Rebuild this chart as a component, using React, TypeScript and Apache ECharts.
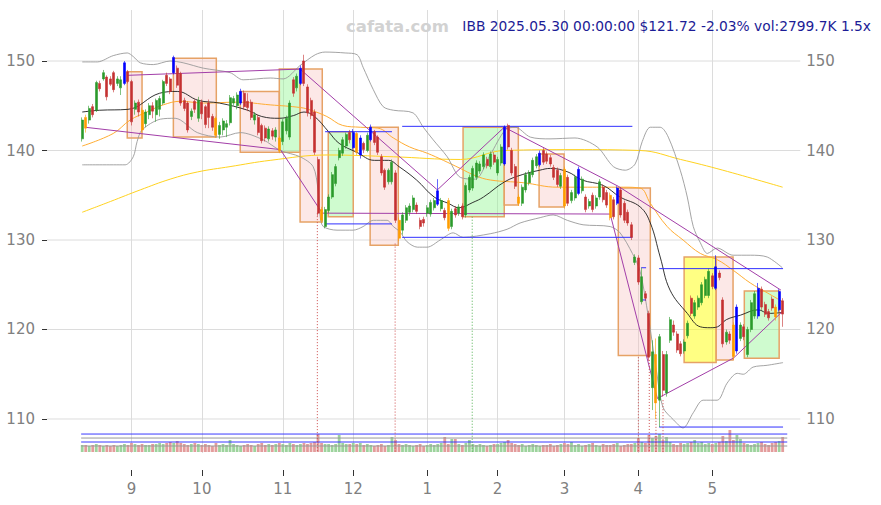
import React, { useEffect, useRef } from 'react';
import * as echarts from 'echarts';

const HOLIDAYS = ['2024-09-02', '2024-11-28', '2024-12-25', '2025-01-01', '2025-01-09', '2025-01-20', '2025-02-17', '2025-04-18', '2025-05-26'];
function tradingDays(start: string, end: string): string[] {
  const out: string[] = [];
  const d = new Date(start + 'T00:00:00Z');
  const e = new Date(end + 'T00:00:00Z');
  while (d <= e) {
    const wd = d.getUTCDay();
    const s = d.toISOString().slice(0, 10);
    if (wd !== 0 && wd !== 6 && HOLIDAYS.indexOf(s) < 0) out.push(s);
    d.setUTCDate(d.getUTCDate() + 1);
  }
  return out;
}
const dates = tradingDays('2024-08-13', '2025-05-30');
const PAD_L = 10;
const PAD_R = 5;

// [open, close, low, high]
const candles: number[][] = [
[141.3,143.4,141.0,143.7],[143.7,142.5,142.0,144.0],[143.4,144.7,143.0,145.0],[144.9,144.0,143.7,145.2],[144.5,147.6,144.3,147.8],
[147.5,146.9,146.6,147.8],[148.0,148.7,147.8,149.0],[148.2,146.0,145.6,148.4],[148.0,147.4,147.2,148.3],[148.7,146.8,146.5,148.9],
[147.5,148.0,147.2,148.3],[147.0,147.9,146.2,148.3],[147.5,149.8,147.3,150.0],[148.8,147.7,147.5,149.0],[147.7,143.2,142.8,147.9],
[144.6,145.3,144.0,145.6],[145.4,144.3,143.8,145.7],[144.5,142.3,142.0,144.8],[143.0,144.3,142.6,144.6],[144.0,145.0,143.5,145.3],
[145.0,144.4,143.6,145.4],[144.0,145.6,143.2,145.8],[144.6,145.8,143.8,146.1],[145.3,147.7,145.1,147.9],[148.4,147.5,147.2,148.7],
[148.0,146.6,146.3,148.2],[148.7,150.4,148.5,150.6],[149.2,147.3,147.0,149.5],[148.6,145.3,145.0,148.8],[145.6,144.7,144.4,145.9],
[145.3,142.3,142.0,145.5],[143.8,144.4,143.4,144.7],[145.5,144.6,144.2,145.7],[143.6,145.6,143.2,146.0],[145.4,144.1,143.5,145.7],
[144.9,142.9,142.5,145.1],[145.3,143.7,142.5,145.7],[143.8,142.6,142.2,144.1],[143.6,141.7,141.4,143.8],[141.8,142.8,141.3,143.2],
[142.3,143.3,141.7,143.6],[142.6,143.0,141.5,143.4],[143.1,145.9,142.8,146.2],[145.3,145.8,145.0,146.1],[145.0,146.2,144.6,146.5],
[145.3,146.6,145.1,146.9],[146.4,144.9,144.6,146.7],[145.5,144.8,144.4,146.4],[145.4,143.7,143.4,145.7],[143.4,144.0,142.9,144.3],
[143.7,142.0,141.7,144.0],[142.8,141.1,140.8,143.0],[142.5,141.4,141.0,142.8],[141.3,142.4,141.0,142.7],[142.2,141.6,141.2,142.5],
[141.5,142.3,141.0,142.6],[141.4,140.0,139.7,141.6],[141.0,143.2,140.6,143.5],[142.2,143.6,141.8,143.9],[141.5,145.3,141.2,145.6],
[147.9,146.4,146.0,148.2],[147.0,148.3,146.6,148.6],[147.5,149.2,147.3,149.5],[150.0,147.5,147.2,150.7],[147.1,144.2,143.8,147.4],
[145.6,143.9,143.5,145.9],[144.3,139.8,139.5,144.6],[139.0,133.0,132.7,139.3],[133.4,132.2,131.9,133.7],[131.5,133.4,131.3,133.7],
[133.3,134.8,133.0,135.1],[134.8,137.3,134.6,137.6],[136.3,138.2,136.0,138.5],[139.2,140.0,138.9,140.3],[139.7,141.2,139.4,141.5],
[140.5,141.8,140.2,142.0],[142.0,141.2,140.8,142.3],[140.3,142.0,140.1,142.4],[141.9,139.8,139.5,142.1],[139.5,141.4,139.1,141.7],
[140.8,140.1,139.7,141.0],[140.0,141.7,139.8,142.0],[141.2,142.6,141.0,142.9],[142.1,140.9,140.6,142.3],[141.5,139.8,139.5,141.7],
[139.3,137.5,137.2,139.6],[137.8,135.9,135.6,138.0],[136.5,137.8,136.2,138.0],[136.5,138.7,136.2,139.0],[137.5,132.2,131.9,137.8],
[132.2,130.2,129.9,132.5],[131.1,132.8,130.6,133.1],[132.2,133.6,131.9,133.9],[133.1,133.8,132.7,134.1],[133.4,134.7,133.1,135.0],
[133.9,133.2,132.9,134.2],[132.2,131.5,131.2,132.5],[132.3,131.9,131.5,132.6],[133.0,133.6,132.6,133.9],[132.9,134.2,132.6,134.5],
[133.6,134.4,133.3,134.7],[134.0,135.5,133.8,136.8],[133.5,134.4,133.2,134.7],[133.3,132.5,132.2,133.6],[134.4,131.3,131.0,134.7],
[131.5,133.2,131.2,133.5],[133.5,132.8,132.5,133.8],[133.0,133.7,132.7,134.0],[133.8,132.6,132.3,134.1],[132.8,136.1,132.5,136.4],
[135.6,137.0,135.3,137.3],[135.8,138.0,135.5,138.3],[137.0,138.6,136.7,138.9],[137.7,138.5,137.4,138.8],[138.2,139.5,137.9,139.8],
[139.0,138.3,138.0,139.3],[138.2,139.6,137.9,139.9],[139.5,138.7,138.4,139.8],[137.5,139.0,137.2,139.3],[138.6,140.4,138.3,140.7],
[138.5,142.6,138.3,142.8],[142.8,140.4,140.1,143.0],[140.0,137.5,137.2,140.3],[138.2,136.0,135.7,138.5],[134.8,134.1,133.8,135.1],
[134.1,135.9,133.8,136.2],[135.6,137.3,135.3,137.6],[136.4,137.5,136.1,137.8],[137.3,138.9,137.0,139.2],[138.3,139.3,138.0,139.6],
[138.4,139.7,138.2,140.0],[140.0,138.7,138.4,140.3],[139.6,138.8,138.5,139.9],[139.2,138.5,138.2,139.5],[138.1,137.0,136.7,138.4],
[137.8,136.2,135.9,138.1],[136.0,137.2,135.7,137.5],[137.9,133.8,133.5,138.2],[137.0,134.1,133.8,137.3],[134.4,135.3,134.1,135.6],
[134.7,137.0,134.4,137.3],[135.2,137.9,135.0,138.2],[135.5,136.8,135.2,137.1],[134.8,133.4,133.1,135.1],[133.8,134.3,133.5,134.6],
[135.0,133.4,133.1,135.3],[133.8,134.7,133.5,135.0],[134.8,136.5,134.5,136.8],[135.9,134.5,134.2,136.2],[135.3,133.9,133.6,135.6],
[135.0,132.5,132.2,135.3],[134.5,132.6,132.3,134.8],[134.1,135.8,133.9,136.0],[135.6,132.8,132.5,135.9],[134.1,132.2,131.9,134.4],
[133.1,131.9,131.6,133.4],[131.7,130.3,130.0,132.0],[127.5,128.1,127.2,128.4],[128.0,125.3,125.0,128.3],[123.1,125.9,122.8,126.9],
[124.0,123.5,123.2,124.3],[121.8,116.9,116.5,122.1],[113.5,117.5,111.0,118.8],[117.2,111.8,110.0,119.0],[112.1,119.2,109.1,119.5],
[117.2,113.2,112.5,117.6],[112.9,117.2,112.5,117.6],[118.8,121.1,118.5,121.4],[120.5,119.7,119.3,121.0],[119.5,117.7,117.4,119.8],
[118.4,117.3,117.0,118.7],[117.6,118.6,117.3,118.9],[119.3,120.7,119.0,121.0],[123.5,121.8,121.5,123.8],[121.5,123.0,121.2,123.3],
[122.5,123.5,122.2,123.8],[123.0,125.0,122.7,125.3],[123.8,125.6,123.5,125.9],[123.8,126.5,123.5,126.8],[126.0,124.8,124.5,126.3],
[124.6,127.0,124.4,128.3],[126.3,125.8,125.5,126.6],[123.3,118.4,118.0,123.6],[118.6,119.7,118.3,120.0],[119.5,118.8,118.4,119.8],
[120.5,117.0,116.6,120.8],[117.6,122.5,117.3,122.8],[119.0,120.5,118.7,120.8],[120.3,119.2,118.8,120.6],[117.2,120.0,116.9,120.3],
[120.0,123.0,119.7,123.3],[121.5,124.0,121.2,124.3],[121.5,124.6,121.2,125.2],[124.5,122.5,122.2,124.8],[122.8,121.7,121.4,123.1],
[122.0,121.3,121.0,122.3],[123.4,122.4,122.1,123.7],[122.5,121.4,121.0,122.8],[122.2,124.24,122.0,124.5],[123.2,121.72,120.3,123.5]
];
const blueIdx = [12, 26, 45, 62, 77, 79, 82, 101, 120, 130, 141, 152, 180, 186, 192, 198];
const orangeIdx = [1, 17, 38, 56, 68, 78, 90, 104, 124, 137, 150, 163, 185, 197];

// volume, thousands of shares
const volumes = [
1310,1310,1120,1310,1500,1310,1120,1310,1120,1310,1120,1310,1500,1310,
1680,1500,1310,1500,1310,1310,1500,1500,1680,1500,1680,1870,1680,2060,1680,1500,1310,1500,1680,1500,
1310,1500,1310,1120,1680,1310,1500,1310,2240,1500,1310,1120,1310,1500,1310,1120,1500,1680,1310,1500,1310,1500,1680,
1500,1310,1680,1500,1310,1500,1680,1500,1680,1870,3370,1680,1500,1500,1310,1500,3180,1680,1500,1500,
1680,1500,1680,1310,1500,1310,1120,1310,1500,1120,1310,2800,2240,1500,1310,1500,1310,1120,1310,1500,1120,
1310,1500,1310,1500,1680,2800,1500,2430,2430,1500,1310,1680,2240,1500,1310,1500,1310,1120,1310,1500,
1500,1680,1870,2240,1680,1500,1310,1500,1120,1310,1500,1310,1120,1310,1310,1500,1120,1310,1500,
1680,1500,1870,1310,1500,1120,1310,1500,1680,1310,1120,1500,1310,1310,1500,1680,1120,1310,1500,1500,1680,
2620,1870,1680,3180,2620,2990,3370,2240,2800,1870,1500,1310,1680,1500,1680,1870,2240,1680,1870,1500,1680,
1500,1680,1870,2990,2060,4110,2240,3180,2430,1680,1500,1310,1500,1680,1870,1500,1310,1680,1870,2060,2799.7
];

// indicator curves: [candle index, value]
const ma20: number[][] = [[0,144.3],[5,144.5],[13,144.6],[22,146.4],[27,146.6],[33,145.6],[39,145.3],[47,144.5],[51,143.8],[56,143.6],[60,143.9],[63,144.3],[66,143.8],[70,142.1],[73,140.8],[78,139.8],[83,138.9],[87,138.9],[90,138.2],[95,136.7],[100,134.8],[104,134.1],[107,133.6],[111,134.2],[114,134.8],[120,136.5],[125,137.3],[130,137.8],[133,138.0],[138,137.6],[142,136.7],[148,136.1],[152.8,134.8],[158.5,133.7],[161.4,131.9],[164.2,128.1],[167,124.4],[171.9,121.8],[175.6,120.3],[178.4,120.2],[180.5,120.3],[183,121.1],[187,121.6],[192,122.2],[195,121.8],[199,121.9]];
const bbUpper: number[][] = [[0,149.9],[4.3,149.9],[8.8,150.6],[12.8,150.9],[14.5,150.5],[16.5,149.8],[20.2,149.6],[25,150.0],[28.7,149.8],[34.4,149.2],[42,148.7],[45.7,147.9],[53.4,148.1],[57.1,148.0],[61.9,149.5],[66.2,150.7],[69,151.0],[74.7,150.9],[78.1,150.7],[79.8,149.3],[82.7,146.8],[85.5,144.9],[88.4,144.5],[94,144.2],[96.9,142.6],[99.7,141.2],[103.7,139.3],[107.4,137.0],[111.6,136.8],[115.9,139.5],[120.2,142.3],[123,142.6],[127.3,141.5],[132.9,141.3],[140,141.4],[146.3,140.4],[150.9,138.2],[154.3,137.8],[157.1,138.5],[159.1,141.0],[161.4,142.6],[164.2,142.6],[166.5,141.5],[169.9,137.8],[171.9,134.8],[173.6,131.5],[175.6,129.7],[177.6,128.5],[180.4,129.1],[184.9,128.3],[189.8,128.3],[194.6,128.1],[198.9,126.9]];
const bbLower: number[][] = [[0,138.4],[12.2,138.4],[14.5,139.3],[15.6,141.0],[17,142.3],[22.2,143.5],[26.4,143.6],[32.7,142.0],[39.2,141.5],[44.9,142.0],[51.4,141.2],[56.3,140.0],[61.9,139.3],[65.6,138.2],[67,135.6],[67.6,132.6],[68.5,131.5],[72.4,131.1],[77,131.1],[79.8,131.5],[82.7,132.2],[86.6,132.2],[88.4,131.5],[90.3,130.9],[92.3,129.8],[95.2,129.2],[98,129.2],[101.7,130.0],[105.4,130.8],[108.2,130.3],[115.9,130.7],[120.7,131.2],[124.4,131.9],[130.1,132.5],[133.8,132.8],[137.8,132.2],[142.3,131.7],[150,131.5],[152.8,130.8],[156.3,128.5],[158.5,126.5],[160.8,121.5],[163.1,115.5],[165,111.3],[168,109.9],[170.7,109.0],[173.6,110.7],[176.4,112.1],[180.4,112.1],[183.2,114.0],[186.1,115.1],[187.8,115.0],[190.6,115.8],[194.6,116.0],[199.1,116.3]];
const ma50: number[][] = [[0,140.5],[8.8,141.9],[13.6,143.4],[18.4,144.3],[23,145.1],[28,145.5],[34.4,145.3],[44,145.4],[53.4,145.1],[62,144.8],[65,144.5],[69.5,143.8],[74,142.8],[79,142.6],[84,142.5],[88.4,141.4],[93,140.4],[98,139.7],[102.6,138.9],[107.4,138.0],[111.6,137.2],[116,136.7],[125.3,136.4],[135,135.9],[144.9,135.9],[153.7,135.9],[158.5,135.8],[161.4,134.1],[166.2,131.5],[170.7,130.0],[175.6,128.5],[180.4,127.8],[185,126.6],[189.8,125.2],[194.6,124.1],[199,123.1]];
const ma200: number[][] = [[0,133.1],[8,134.3],[16.5,135.6],[25,136.8],[32.7,137.6],[42,138.2],[53.4,138.9],[69.6,139.5],[88.4,139.3],[107.4,139.0],[120,140.0],[140,140.1],[158.5,140.0],[170,139.0],[182,137.8],[199,135.9]];

// boxes: [x1, x2, top, bottom, kind] kind 0 pink, 1 green, 2 yellow
const boxes: number[][] = [
[12.8,17.0,148.8,141.4,0],[25.9,38.1,150.3,141.5,0],[44.9,56.0,146.6,139.8,0],[56.0,61.9,149.1,139.8,1],[61.9,68.2,149.1,132.0,0],
[69.9,77.0,142.1,132.6,1],[81.8,89.8,142.6,129.4,0],[108.2,119.9,142.6,132.6,1],[119.9,123.9,142.6,133.9,0],[129.8,136.9,139.6,133.7,0],
[152.3,161.4,135.8,117.1,0],[171.0,180.1,128.1,116.3,2],[180.1,184.9,128.1,116.6,0],[188.1,198.0,124.3,116.8,1]
];
const zigUpper: number[][] = [[12.8,148.4],[61.9,149.1],[100.9,135.6],[119.9,142.6],[152.3,136.0],[198.5,124.4]];
const zigLower: number[][] = [[0.8,142.6],[56.3,140.1],[68.2,133.0],[150,132.9],[163.4,112.3],[185,116.8],[198.9,122.0]];
// blue levels: [x1, x2, value]
const blueLevels: number[][] = [[69,88,142.1],[69,88,131.8],[90.9,156.3,142.7],[90.9,156.3,130.3],[163.9,199.1,126.8],[163.9,199.1,109.1],[158.8,160.2,126.9],[158.8,160.2,123.3]];
// dotted drops: [x, from value, kind] kind 0 red, 1 green
const drops: number[][] = [[66.8,133.0,0],[88.9,129.6,0],[110.8,132.6,1],[158,116.9,0],[161.1,116.6,0],[163,110.8,0],[165,112.1,0]];
const volLevels = [[3360, '#3a3aff'], [2610, '#999999'], [1870, '#3a3aff'], [1120, '#999999']];
const gridLevels = [110, 120, 130, 140, 150];
const monthStarts: Record<number, string> = { 14: '9', 34: '10', 57: '11', 77: '12', 98: '1', 118: '2', 137: '3', 158: '4', 179: '5' };

const Y_MIN = 106.2;
const Y_MAX = 155.7;
const X_MIN = -PAD_L;
const X_MAX = 199 + PAD_R;
const STEP = 3.52;
const GRID_LEFT = 47;
const GRID_RIGHT = 881 - GRID_LEFT - (X_MAX - X_MIN) * STEP;

export default function App() {
  const ref = useRef<HTMLDivElement>(null);
  useEffect(() => {
    if (!ref.current) return;
    document.body.style.margin = '0';
    const chart = echarts.init(ref.current, undefined, { renderer: 'svg' });
    const cats = [
      ...Array.from({ length: PAD_L }, (_, i) => 'pl' + i),
      ...dates,
      ...Array.from({ length: PAD_R }, (_, i) => 'pr' + i),
    ];
    const isMonth = (idx: number) => monthStarts[idx - PAD_L] !== undefined;
    const candleData = candles.map((c, i) => {
      const item: any = { value: [i + PAD_L, c[0], c[1], c[2], c[3]] };
      if (blueIdx.indexOf(i) >= 0) item.itemStyle = { color: '#0000ff', color0: '#0000ff', borderColor: '#0000ff', borderColor0: '#0000ff' };
      else if (orangeIdx.indexOf(i) >= 0) item.itemStyle = { color: '#ff9d00', color0: '#ff9d00', borderColor: '#ff9d00', borderColor0: '#ff9d00' };
      return item;
    });
    const volData = volumes.map((v, i) => ({
      value: [i + PAD_L, v],
      itemStyle: { color: candles[i][1] >= candles[i][0] ? '#9dd39d' : '#e39c9c' },
    }));
    const lineS = (data: number[][], color: string, width: number, extra: any = {}) => ({
      type: 'line', xAxisIndex: 2, yAxisIndex: 0, data, showSymbol: false, symbol: 'none', silent: true,
      lineStyle: { color, width, ...(extra.lineStyle || {}) }, z: extra.z ?? 3, smooth: extra.smooth ?? 0,
    });
    const series: any[] = [];
    gridLevels.forEach((g) => series.push(lineS([[X_MIN, g], [X_MAX, g]], '#dcdcdc', 1, { z: 0 })));
    series.push({
      type: 'custom', xAxisIndex: 2, yAxisIndex: 0, z: 1, silent: true,
      encode: { x: [0, 1], y: [2, 3] },
      data: boxes,
      renderItem: (params: any, api: any) => {
        const p1 = api.coord([api.value(0), api.value(2)]);
        const p2 = api.coord([api.value(1), api.value(3)]);
        const k = api.value(4);
        const fill = k === 1 ? 'rgba(140,245,140,0.42)' : k === 2 ? 'rgba(255,255,30,0.55)' : 'rgba(247,190,185,0.35)';
        return {
          type: 'rect',
          shape: { x: p1[0], y: p1[1], width: p2[0] - p1[0], height: p2[1] - p1[1] },
          style: { fill, stroke: '#e6a266', lineWidth: 1.5 },
        };
      },
    });
    series.push(lineS(ma200, '#ffd21f', 1, { smooth: 0.4 }));
    series.push(lineS(ma50, '#ffac33', 1, { smooth: 0.4 }));
    series.push(lineS(bbUpper, '#9a9a9a', 0.9, { smooth: 0.3 }));
    series.push(lineS(bbLower, '#9a9a9a', 0.9, { smooth: 0.3 }));
    series.push(lineS(ma20, '#1e1e1e', 0.9, { smooth: 0.4 }));
    series.push(lineS(zigUpper, '#a23ea8', 1, { z: 4 }));
    series.push(lineS(zigLower, '#a23ea8', 1, { z: 4 }));
    blueLevels.forEach((b) => series.push(lineS([[b[0], b[2]], [b[1], b[2]]], '#3030ff', 1, { z: 4 })));
    drops.forEach((d) => series.push(lineS([[d[0], d[1]], [d[0], 106.3]], d[2] === 1 ? '#4cae4c' : '#cc4a4a', 1, { z: 4, lineStyle: { type: [1, 2] } })));
    series.push({
      type: 'candlestick', xAxisIndex: 0, yAxisIndex: 0, z: 5,
      encode: { x: 0, y: [1, 2, 3, 4] },
      data: candleData, barWidth: 2.5,
      itemStyle: { color: '#2b9a2b', color0: '#c43131', borderColor: '#2b9a2b', borderColor0: '#c43131', borderWidth: 0.6 },
    });
    series.push({ type: 'bar', xAxisIndex: 1, yAxisIndex: 1, data: volData, barWidth: 2.8, silent: true, z: 2 });
    volLevels.forEach((v) => series.push({
      type: 'line', xAxisIndex: 3, yAxisIndex: 1, data: [[-0.3, v[0]], [200.3, v[0]]], showSymbol: false, symbol: 'none',
      lineStyle: { color: v[1], width: 1 }, z: 3, silent: true,
    }));
    // anchor series for the narrow left label strip
    series.push({
      type: 'line', xAxisIndex: 4, yAxisIndex: 2, data: [[0, 130], [1, 130]], showSymbol: false, symbol: 'none',
      lineStyle: { opacity: 0, width: 0 }, silent: true, z: 0,
    });

    const yLabel = (v: number) => (Math.abs(v % 10) < 1e-6 ? String(v) : '');
    const option: any = {
      animation: false,
      backgroundColor: '#ffffff',
      textStyle: { fontFamily: 'DejaVu Sans' },
      title: [
        { text: 'cafata.com', left: 341, top: 13, textStyle: { fontSize: 16.5, fontWeight: 'bold', color: '#d2d2d2', fontFamily: 'DejaVu Sans' } },
        { text: 'IBB 2025.05.30 00:00:00 $121.72 -2.03% vol:2799.7K 1.5x', right: 5, top: 14, textStyle: { fontSize: 13.8, fontWeight: 'normal', color: '#1c1c96', fontFamily: 'DejaVu Sans' } },
      ],
      grid: [
        { left: GRID_LEFT, right: GRID_RIGHT, top: 10, bottom: 52 },
        { left: GRID_LEFT, right: GRID_RIGHT, top: 424, bottom: 53 },
        { left: 0, right: 881 - GRID_LEFT, top: 10, bottom: 52 },
      ],
      xAxis: [
        {
          type: 'category', gridIndex: 0, data: cats, boundaryGap: false, offset: 17,
          axisLine: { show: false, onZero: false },
          axisTick: { show: true, interval: (i: number) => isMonth(i), length: 6, lineStyle: { color: '#333' } },
          axisLabel: { interval: (i: number) => isMonth(i), formatter: (_v: string, i: number) => monthStarts[i - PAD_L] || '', color: '#808080', fontSize: 15, margin: 11 },
          splitLine: { show: true, interval: (i: number) => isMonth(i), lineStyle: { color: '#dcdcdc', width: 1 } },
        },
        { type: 'category', gridIndex: 1, data: cats, boundaryGap: false, show: false, axisLine: { onZero: false } },
        { type: 'value', gridIndex: 0, min: X_MIN, max: X_MAX, show: false, axisLine: { onZero: false } },
        { type: 'value', gridIndex: 1, min: X_MIN, max: X_MAX, show: false, axisLine: { onZero: false } },
        { type: 'value', gridIndex: 2, min: 0, max: 1, show: false, axisLine: { onZero: false }, splitLine: { show: false } },
      ],
      yAxis: [
        {
          type: 'value', gridIndex: 0, min: Y_MIN, max: Y_MAX, position: 'right',
          splitLine: { show: false }, axisLine: { show: false, onZero: false }, axisTick: { show: false },
          axisLabel: { formatter: yLabel, color: '#808080', fontSize: 15, margin: 6, showMinLabel: false, showMaxLabel: false },
        },
        { type: 'value', gridIndex: 1, min: 0, max: 5236, show: false, axisLine: { onZero: false } },
        {
          type: 'value', gridIndex: 2, min: Y_MIN, max: Y_MAX, position: 'right',
          splitLine: { show: false }, axisLine: { show: false, onZero: false },
          axisTick: { show: true, inside: true, length: 5, lineStyle: { color: '#333' } },
          axisLabel: { inside: true, formatter: yLabel, color: '#808080', fontSize: 15, margin: 12, showMinLabel: false, showMaxLabel: false },
        },
      ],
      series,
    };
    chart.setOption(option);
    return () => chart.dispose();
  }, []);
  return <div ref={ref} style={{ width: 881, height: 505, position: 'absolute', left: 0, top: 0 }} />;
}
